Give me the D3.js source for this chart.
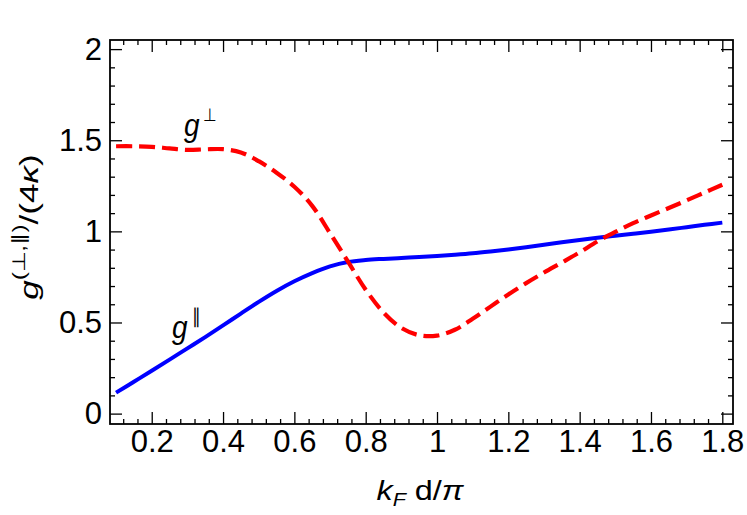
<!DOCTYPE html>
<html><head><meta charset="utf-8">
<script src="https://cdn.jsdelivr.net/npm/d3@7"></script>
<style>
html,body{margin:0;padding:0;background:#fff;}
svg{display:block;font-family:"Liberation Sans",Arial,Helvetica,sans-serif;}
</style></head>
<body>
<script>
// ---- data ----
const xValues = [0.1,0.15,0.2,0.25,0.3,0.35,0.4,0.45,0.5,0.55,0.6,0.65,0.7,0.75,0.8,0.85,0.9,0.95,1.0,1.05,1.1,1.15,1.2,1.25,1.3,1.35,1.4,1.45,1.5,1.55,1.6,1.65,1.7,1.75,1.8];
const gPerp = [1.467,1.467,1.464,1.455,1.447,1.450,1.451,1.433,1.385,1.322,1.245,1.140,0.990,0.835,0.680,0.555,0.470,0.430,0.428,0.460,0.520,0.587,0.654,0.716,0.774,0.829,0.885,0.945,0.997,1.045,1.087,1.128,1.170,1.213,1.256];
const gPar = [0.115,0.175,0.235,0.296,0.358,0.420,0.484,0.549,0.613,0.673,0.726,0.771,0.808,0.832,0.843,0.849,0.854,0.859,0.865,0.872,0.880,0.890,0.901,0.913,0.926,0.940,0.953,0.965,0.976,0.987,0.998,1.010,1.023,1.036,1.048];
const xTicks = [0.2,0.4,0.6,0.8,1,1.2,1.4,1.6,1.8];
const xTickLabels = ["0.2","0.4","0.6","0.8","1","1.2","1.4","1.6","1.8"];
const yTicks = [0,0.5,1,1.5,2];
const yTickLabels = ["0","0.5","1","1.5","2"];

const W = 747, H = 515;
const L = 110, R = 733, T = 40, B = 424;
const svg = d3.select("body").append("svg").attr("width", W).attr("height", H);

const x = d3.scaleLinear().domain([0.083, 1.83]).range([L, R]);
const y = d3.scaleLinear().domain([-0.057, 2.05]).range([B, T]);

const xMinor = d3.range(0.12, 1.83, 0.04).map(v => +v.toFixed(2)).filter(v => !xTicks.some(t => Math.abs(t - v) < 1e-6));
const yMinor = d3.range(0, 2.01, 0.1).map(v => +v.toFixed(2)).filter(v => !yTicks.some(t => Math.abs(t - v) < 1e-6));

const MAJ = 12, MIN = 5;
function styleAxis(g) {
  g.select(".domain").remove();
  g.selectAll(".tick line").attr("stroke", "#000").attr("stroke-width", 1.3);
  g.selectAll("text").attr("fill", "#000").attr("font-size", "31px");
}
// bottom
svg.append("g").attr("transform", `translate(0,${B})`)
  .call(d3.axisBottom(x).tickValues(xTicks).tickSize(-MAJ).tickPadding(6)
    .tickFormat((d, i) => xTickLabels[i])).call(styleAxis);
svg.append("g").attr("transform", `translate(0,${B})`)
  .call(d3.axisBottom(x).tickValues(xMinor).tickSize(-MIN).tickFormat("")).call(styleAxis);
// top
svg.append("g").attr("transform", `translate(0,${T})`)
  .call(d3.axisTop(x).tickValues(xTicks).tickSize(-MAJ).tickFormat("")).call(styleAxis);
svg.append("g").attr("transform", `translate(0,${T})`)
  .call(d3.axisTop(x).tickValues(xMinor).tickSize(-MIN).tickFormat("")).call(styleAxis);
// left
svg.append("g").attr("transform", `translate(${L},0)`)
  .call(d3.axisLeft(y).tickValues(yTicks).tickSize(-MAJ).tickPadding(8)
    .tickFormat((d, i) => yTickLabels[i])).call(styleAxis);
svg.append("g").attr("transform", `translate(${L},0)`)
  .call(d3.axisLeft(y).tickValues(yMinor).tickSize(-MIN).tickFormat("")).call(styleAxis);
// right
svg.append("g").attr("transform", `translate(${R},0)`)
  .call(d3.axisRight(y).tickValues(yTicks).tickSize(-MAJ).tickFormat("")).call(styleAxis);
svg.append("g").attr("transform", `translate(${R},0)`)
  .call(d3.axisRight(y).tickValues(yMinor).tickSize(-MIN).tickFormat("")).call(styleAxis);

// frame
svg.append("rect").attr("x", L).attr("y", T).attr("width", R - L).attr("height", B - T)
  .attr("fill", "none").attr("stroke", "#000").attr("stroke-width", 1.8);

// curves
const line = d3.line().x(d => x(d[0])).y(d => y(d[1])).curve(d3.curveCatmullRom.alpha(0.5));
svg.append("path").datum(xValues.map((v, i) => [v, gPar[i]]))
  .attr("d", line).attr("fill", "none").attr("stroke", "#0000ff").attr("stroke-width", 4);
svg.append("path").datum(xValues.map((v, i) => [v, gPerp[i]]))
  .attr("d", line).attr("fill", "none").attr("stroke", "#ff0000").attr("stroke-width", 4.2)
  .attr("stroke-dasharray", "16,7");

// curve labels
const lab1 = svg.append("text").attr("transform", "translate(184,136) scale(1,1.15)").attr("font-size", "28px").attr("fill", "#000");
lab1.append("tspan").attr("font-style", "italic").text("g");
lab1.append("tspan").attr("font-size", "16px").attr("dy", -13).attr("dx", 3).text("⊥");
const lab2 = svg.append("text").attr("transform", "translate(172,338) scale(1,1.15)").attr("font-size", "28px").attr("fill", "#000");
lab2.append("tspan").attr("font-style", "italic").text("g");
lab2.append("tspan").attr("font-size", "17px").attr("dy", -13).attr("dx", 4).text("∥");

// axis titles
const xt = svg.append("text").attr("transform", "translate(420,500) scale(1.2,1)").attr("text-anchor", "middle")
  .attr("font-size", "27px").attr("fill", "#000");
xt.append("tspan").attr("font-style", "italic").text("k");
xt.append("tspan").attr("font-style", "italic").attr("font-size", "18px").attr("dy", 6).text("F");
xt.append("tspan").attr("dy", -6).text(" d/");
xt.append("tspan").attr("font-style", "italic").text("π");

const yt = svg.append("text").attr("transform", "translate(38,227) rotate(-90) scale(1.35,1)")
  .attr("text-anchor", "middle").attr("font-size", "26px").attr("fill", "#000");
yt.append("tspan").attr("font-style", "italic").text("g");
yt.append("tspan").attr("font-size", "18px").attr("dy", -13).text("(⊥,∥)");
yt.append("tspan").attr("dy", 13).text("/(4");
yt.append("tspan").attr("font-style", "italic").text("κ");
yt.append("tspan").text(")");
</script>
</body></html>
